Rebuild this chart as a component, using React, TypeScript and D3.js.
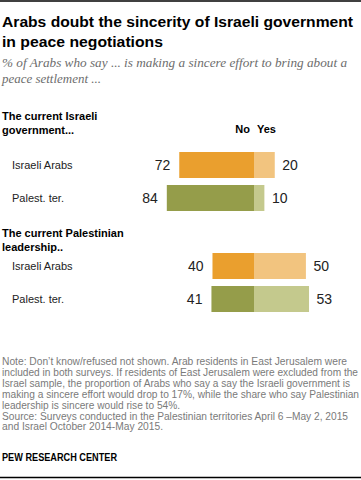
import React from "react";
import * as d3 from "d3";

// values (percent)
const rowLabels = ["Israeli Arabs", "Palest. ter."];
const groupTitles = [
  ["The current Israeli", "government..."],
  ["The current Palestinian", "leadership.."],
];
const noValues = [
  [72, 84],
  [40, 41],
];
const yesValues = [
  [20, 10],
  [50, 53],
];

const titleLines = [
  "Arabs doubt the sincerity of Israeli government",
  "in peace negotiations",
];
const subtitleLines = [
  "% of Arabs who say ... is making a sincere effort to bring about a",
  "peace settlement ...",
];
const noteLines = [
  "Note: Don\u2019t know/refused not shown. Arab residents in East Jerusalem were",
  "included in both surveys. If residents of East Jerusalem were excluded from the",
  "Israel sample, the proportion of Arabs who say a say the Israeli government is",
  "making a sincere effort would drop to 17%, while the share who say Palestinian",
  "leadership is sincere would rise to 54%.",
  "Source: Surveys conducted in the Palestinian territories April 6 \u2013May 2, 2015",
  "and Israel October 2014-May 2015.",
];

const W = 361;
const H = 480;
const sans = "Arial, 'Liberation Sans', sans-serif";

const colors = {
  no: ["#EA9F2E", "#959D4A"],
  yes: ["#F2C47F", "#C4C98D"],
};

// layout
const center = 254;
const pxPerPct = 1.038;
const groupRanges: [number, number][] = [
  [152, 211],
  [253, 312],
];
const headingBaselines = [
  [120, 134],
  [237, 251],
];
const titleWidths = [351, 161];
const subtitleWidths = [345, 99];
const noteWidths = [345, 356, 348, 357, 178, 346, 161];

export default function App() {
  const xNo = d3.scaleLinear().domain([0, 100]).range([center, center - 100 * pxPerPct]);
  const xYes = d3.scaleLinear().domain([0, 100]).range([center, center + 100 * pxPerPct]);

  return (
    <svg
      width={W}
      height={H}
      style={{ position: "absolute", left: 0, top: 0, background: "#fff" }}
      fontFamily={sans}
    >
      <line x1={0} x2={W} y1={1} y2={1} stroke="#000" strokeWidth={1.5} />

      {titleLines.map((t, i) => (
        <text
          key={t}
          x={2}
          y={27 + i * 19.5}
          fontSize={15.5}
          fontWeight="bold"
          fill="#000"
          textLength={titleWidths[i]}
          lengthAdjust="spacingAndGlyphs"
        >
          {t}
        </text>
      ))}

      {subtitleLines.map((t, i) => (
        <text
          key={t}
          x={2}
          y={67 + i * 16}
          fontSize={13}
          fontStyle="italic"
          fontFamily="Georgia, 'Liberation Serif', serif"
          fill="#6d6d6d"
          textLength={subtitleWidths[i]}
          lengthAdjust="spacingAndGlyphs"
        >
          {t}
        </text>
      ))}

      <text x={250} y={133} fontSize={11} fontWeight="bold" textAnchor="end" fill="#000">
        No
      </text>
      <text x={257} y={133} fontSize={11} fontWeight="bold" fill="#000">
        Yes
      </text>

      {groupTitles.map((g, gi) => {
        const y = d3
          .scaleBand<string>()
          .domain(rowLabels)
          .range(groupRanges[gi])
          .paddingInner(7 / 33);
        return (
          <g key={gi}>
            {g.map((line, li) => (
              <text
                key={line}
                x={2}
                y={headingBaselines[gi][li]}
                fontSize={11}
                fontWeight="bold"
                fill="#000"
              >
                {line}
              </text>
            ))}
            {rowLabels.map((r, ri) => {
              const top = y(r)!;
              const bw = y.bandwidth();
              const mid = top + bw / 2;
              const nv = noValues[gi][ri];
              const yv = yesValues[gi][ri];
              return (
                <g key={r}>
                  <text x={12} y={mid + 4} fontSize={11} fill="#222">
                    {r}
                  </text>
                  <rect
                    x={xNo(nv)}
                    y={top}
                    width={xNo(0) - xNo(nv)}
                    height={bw}
                    fill={colors.no[ri]}
                  />
                  <rect
                    x={xYes(0)}
                    y={top}
                    width={xYes(yv) - xYes(0)}
                    height={bw}
                    fill={colors.yes[ri]}
                  />
                  <text
                    x={xNo(nv) - 9}
                    y={mid + 5}
                    fontSize={14}
                    textAnchor="end"
                    fill="#222"
                  >
                    {nv}
                  </text>
                  <text x={xYes(yv) + 7.5} y={mid + 5} fontSize={14} fill="#222">
                    {yv}
                  </text>
                </g>
              );
            })}
          </g>
        );
      })}

      {noteLines.map((t, i) => (
        <text
          key={i}
          x={2}
          y={365 + i * 10.9}
          fontSize={10}
          fill="#7a7a7a"
          textLength={noteWidths[i]}
          lengthAdjust="spacingAndGlyphs"
        >
          {t}
        </text>
      ))}

      <text
        x={2}
        y={461}
        fontSize={10}
        fontWeight="bold"
        fill="#000"
        textLength={115}
        lengthAdjust="spacingAndGlyphs"
      >
        PEW RESEARCH CENTER
      </text>

      <line x1={0} x2={W} y1={477.5} y2={477.5} stroke="#000" strokeWidth={1.5} />
    </svg>
  );
}
